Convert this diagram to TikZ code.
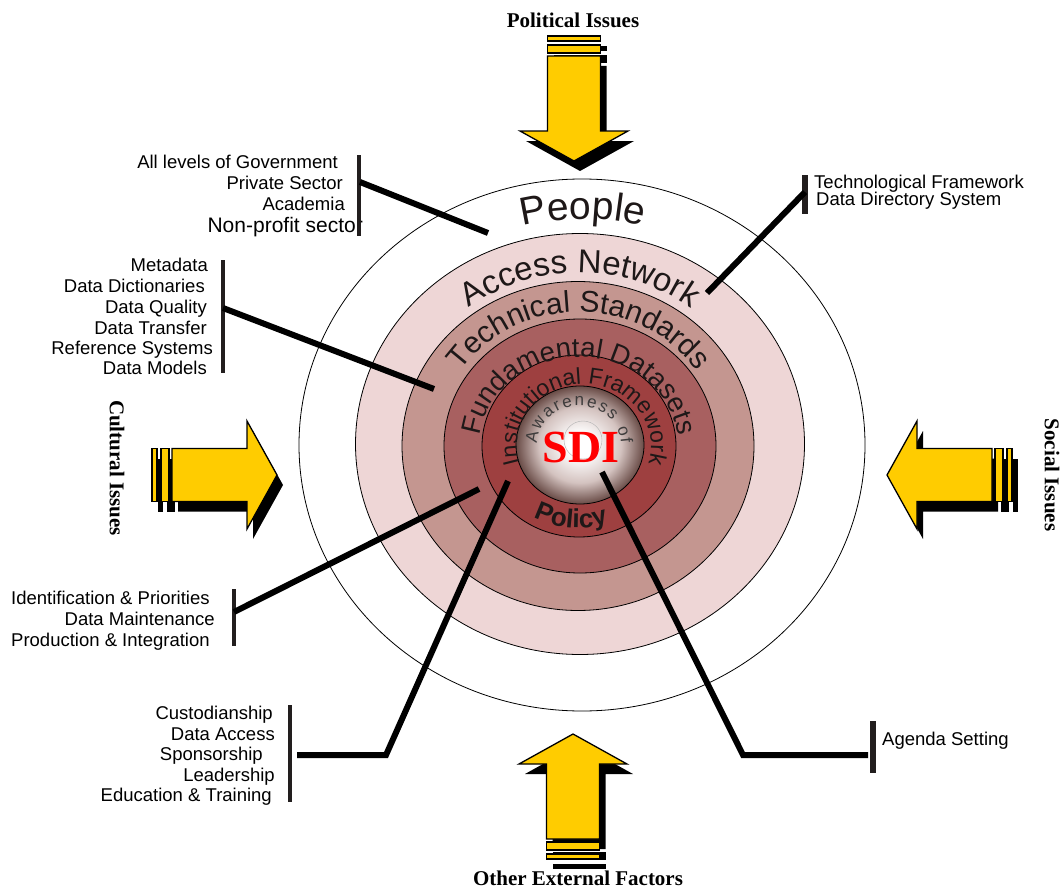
\documentclass[tikz,border=0pt]{standalone}
\usepackage{fontspec}
\setmainfont{Liberation Serif}
\setsansfont{Liberation Sans}
\usetikzlibrary{decorations.text}

\definecolor{ringA}{RGB}{238,214,214}
\definecolor{ringB}{RGB}{196,150,144}
\definecolor{ringC}{RGB}{168,96,96}
\definecolor{ringD}{RGB}{158,64,64}
\definecolor{arrowyellow}{RGB}{255,204,0}
\definecolor{sphedge}{RGB}{105,75,70}
\definecolor{sphmid}{RGB}{212,195,192}
\definecolor{textdark}{RGB}{30,24,24}
\definecolor{awgray}{RGB}{62,60,60}
\definecolor{sdired}{RGB}{255,0,0}
\definecolor{barcol}{RGB}{34,30,30}

\pgfdeclareradialshading{sdisphere}{\pgfpoint{0bp}{0bp}}{color(0bp)=(white); color(5bp)=(white); color(16bp)=(sphmid); color(25bp)=(sphedge); color(50bp)=(sphedge)}

\tikzset{
  ring/.style={draw=black, line width=0.8pt},
  conn/.style={line width=6pt, draw=black, line join=miter},
  bracketbar/.style={line width=#1, draw=barcol},
  lbl/.style={font=\sffamily\fontsize{18.5}{21}\selectfont, inner sep=0pt},
  lblbig/.style={font=\sffamily\fontsize{21}{24}\selectfont, inner sep=0pt},
  issue/.style={font=\rmfamily\bfseries\fontsize{21}{24}\selectfont, inner sep=0pt},
  arrowfill/.style={fill=arrowyellow, draw=black, line width=1.3pt, line join=miter},
}

% arrow pointing "down" in local frame, tip at origin; #1 = shadow offset in local frame
\newcommand{\drawissuearrow}[1]{%
  \begin{scope}[shift={#1}]
    \fill[black] (0,0) -- (-54,-30) -- (-26.5,-30) -- (-26.5,-105) -- (26.5,-105) -- (26.5,-30) -- (54,-30) -- cycle;
    \fill[black] (-26.5,-108) rectangle (26.5,-116);
    \fill[black] (-26.5,-120) rectangle (26.5,-125);
  \end{scope}
  \filldraw[arrowfill] (0,0) -- (-54,-30) -- (-26.5,-30) -- (-26.5,-105) -- (26.5,-105) -- (26.5,-30) -- (54,-30) -- cycle;
  \filldraw[arrowfill] (-26.5,-108) rectangle (26.5,-116);
  \filldraw[arrowfill] (-26.5,-120) rectangle (26.5,-125);
}

\begin{document}
\begin{tikzpicture}[x=1pt, y=-1pt]
\useasboundingbox (0,0) rectangle (1061,891);
\fill[white] (0,0) rectangle (1061,891);

% ---------- rings ----------
\coordinate (C) at (580,445);
\draw[ring, fill=white] (582,445) ellipse [x radius=283, y radius=266];
\draw[ring, fill=ringA] (580,444) ellipse [x radius=224.5, y radius=210.5];
\draw[ring, fill=ringB] (578,446) ellipse [x radius=176, y radius=164.5];
\draw[ring, fill=ringC] (580,446) ellipse [x radius=136, y radius=127];
\draw[ring, fill=ringD] (579,446) ellipse [x radius=97, y radius=91];
\shade[shading=sdisphere] (580,445) ellipse [x radius=64, y radius=59];
\draw[ring] (580,445) ellipse [x radius=64, y radius=59];
\draw[black!30, line width=0.4pt] (583,440) circle [radius=19];

% ---------- curved texts ----------
\path[decorate, decoration={text along path, text align=center, text color=textdark,
  text={|\sffamily\fontsize{39}{41}\selectfont|People}}]
  (583,445) ++(200:240 and 226) arc[start angle=200, end angle=340, x radius=240, y radius=226];
\path[decorate, decoration={text along path, text align=center, text color=textdark,
  text={|\sffamily\fontsize{33}{35}\selectfont|Access Network}}]
  (580,445) ++(170:183 and 172) arc[start angle=170, end angle=370, x radius=183, y radius=172];
\path[decorate, decoration={text along path, text align=center, text color=textdark,
  text={|\sffamily\fontsize{30}{32}\selectfont|Technical Standards}}]
  (579,445) ++(150:142 and 133) arc[start angle=150, end angle=390, x radius=142, y radius=133];
\path[decorate, decoration={text along path, text align=center, text color=textdark,
  text={|\sffamily\fontsize{27.5}{29}\selectfont|Fundamental Datasets}}]
  (579,447) ++(140:100 and 90) arc[start angle=140, end angle=400, x radius=100, y radius=90];
\path[decorate, decoration={text along path, text align=center, text color=textdark,
  text={|\sffamily\fontsize{23}{25}\selectfont|Institutional Framework}}]
  (584,446) ++(140:67 and 62) arc[start angle=140, end angle=400, x radius=67, y radius=62];
\path[decorate, decoration={text along path, text align={fit to path}, text color=awgray,
  text={|\sffamily\fontsize{17}{19}\selectfont|Awareness of}}]
  (579,445) ++(182:42 and 39) arc[start angle=182, end angle=358, x radius=42, y radius=39];
\path[decorate, decoration={text along path, text align=center, text color=textdark,
  text={|\sffamily\bfseries\fontsize{26}{28}\selectfont|Policy}}]
  (578,445) ++(130:90 and 83) arc[start angle=130, end angle=60, x radius=90, y radius=83];

\node[font=\rmfamily\bfseries\fontsize{46}{46}\selectfont, text=sdired, inner sep=0pt] (sdi) at (581,447) {SDI};

% ---------- issue arrows ----------
\begin{scope}[shift={(574,161)}]
  \drawissuearrow{(6,10)}
\end{scope}
\begin{scope}[shift={(573,734)}, rotate=180]
  \drawissuearrow{(-6,-10)}
\end{scope}
\begin{scope}[shift={(277,475)}, rotate=90]
  \drawissuearrow{(-10,6)}
\end{scope}
\begin{scope}[shift={(887,475)}, rotate=-90]
  \drawissuearrow{(10,-6)}
\end{scope}

\node[issue] (political) at (573,20) {Political Issues};
\node[issue] (external) at (578,878) {Other External Factors};
\node[issue, rotate=-90] (cultural) at (117,468) {Cultural Issues};
\node[issue, rotate=-90] (social) at (1052,475) {Social Issues};

% ---------- label groups ----------
\node[lbl, anchor=base east] (l1a) at (338,168.6) {All levels of Government};
\node[lbl, anchor=base east] (l1b) at (343,189.6) {Private Sector};
\node[lbl, anchor=base east] (l1c) at (345,210.6) {Academia};
\node[lblbig, anchor=base east] (l1d) at (363,232.5) {Non-profit sector};

\node[lbl, anchor=base east] (l2a) at (208,271.6) {Metadata};
\node[lbl, anchor=base east] (l2b) at (205,292.6) {Data Dictionaries};
\node[lbl, anchor=base east] (l2c) at (207,313) {Data Quality};
\node[lbl, anchor=base east] (l2d) at (207,334) {Data Transfer};
\node[lbl, anchor=base east] (l2e) at (213,354.6) {Reference Systems};
\node[lbl, anchor=base east] (l2f) at (207,374.6) {Data Models};

\node[lbl, anchor=base west] (l3a) at (814,188.6) {Technological Framework};
\node[lbl, anchor=base west] (l3b) at (816,205.6) {Data Directory System};

\node[lbl, anchor=base west] (l4a) at (11,604.6) {Identification \& Priorities};
\node[lbl, anchor=base east] (l4b) at (215,625.6) {Data Maintenance};
\node[lbl, anchor=base west] (l4c) at (11,646) {Production \& Integration};

\node[lbl, anchor=base east] (l5a) at (273,719.6) {Custodianship};
\node[lbl, anchor=base east] (l5b) at (275,740.6) {Data Access};
\node[lbl, anchor=base east] (l5c) at (263,760.6) {Sponsorship};
\node[lbl, anchor=base east] (l5d) at (275,781.6) {Leadership};
\node[lbl, anchor=base east] (l5e) at (272,801.6) {Education \& Training};

\node[lbl, anchor=base west] (l6a) at (882,745.6) {Agenda Setting};

% ---------- brackets ----------
\coordinate (b1t) at (359,155); \coordinate (b1b) at (359,236);
\coordinate (b2t) at (223,260); \coordinate (b2b) at (223,373);
\coordinate (b3t) at (805,175); \coordinate (b3b) at (805,214);
\coordinate (b4t) at (234,589); \coordinate (b4b) at (234,646);
\coordinate (b5t) at (290,705); \coordinate (b5b) at (290,802);
\coordinate (b6t) at (873,721); \coordinate (b6b) at (873,773);
\draw[bracketbar=4pt] (b1t) -- (b1b);
\draw[bracketbar=4.5pt] (b2t) -- (b2b);
\draw[bracketbar=6pt] (b3t) -- (b3b);
\draw[bracketbar=3.5pt] (b4t) -- (b4b);
\draw[bracketbar=4pt] (b5t) -- (b5b);
\draw[bracketbar=6pt] (b6t) -- (b6b);

% ---------- connectors ----------
\coordinate (s1) at (360,182); \coordinate (e1) at (488,233);
\coordinate (s2) at (223,308); \coordinate (e2) at (434,389);
\coordinate (s3) at (805,192); \coordinate (e3) at (707,293);
\coordinate (s4) at (234,612); \coordinate (e4) at (479,489);
\coordinate (s5) at (297,755); \coordinate (k5) at (386,755); \coordinate (e5) at (508,481);
\coordinate (s6) at (868,755); \coordinate (k6) at (743,755); \coordinate (e6) at (602,472);
\draw[conn] (s1) -- (e1);
\draw[conn] (s2) -- (e2);
\draw[conn] (s3) -- (e3);
\draw[conn] (s4) -- (e4);
\draw[conn] (s5) -- (k5) -- (e5);
\draw[conn] (s6) -- (k6) -- (e6);
\end{tikzpicture}
\end{document}
